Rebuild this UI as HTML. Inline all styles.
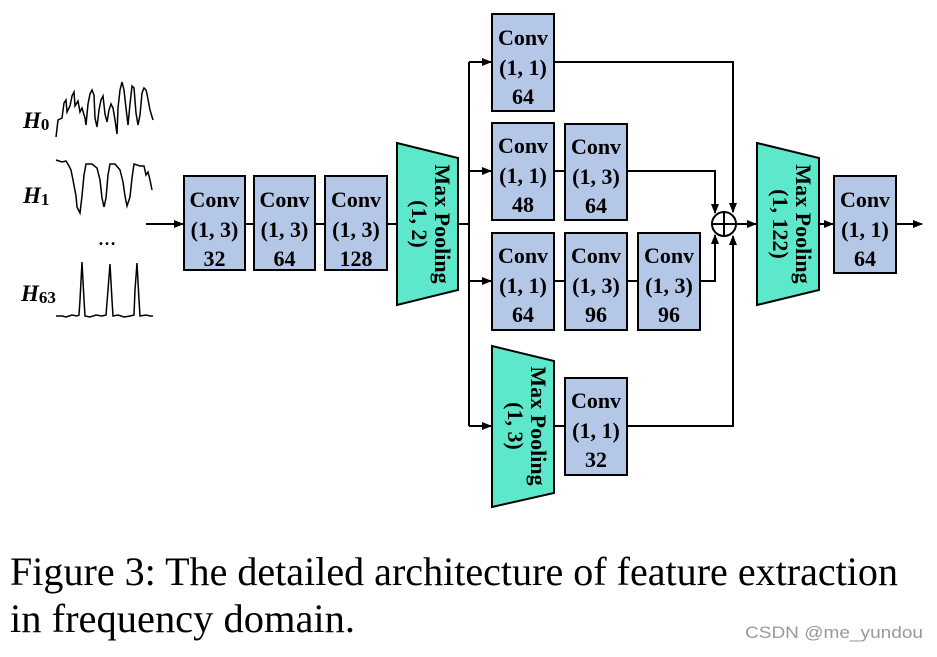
<!DOCTYPE html>
<html><head><meta charset="utf-8"><style>
body{margin:0;background:#fff;width:937px;height:652px;overflow:hidden}
svg text{font-family:"Liberation Serif",serif}
.b{font-weight:bold;font-size:22px}
</style></head><body>
<svg width="937" height="652" viewBox="0 0 937 652" xmlns="http://www.w3.org/2000/svg">
<defs><marker id="a" markerWidth="10" markerHeight="8" refX="9" refY="4" orient="auto" markerUnits="userSpaceOnUse"><path d="M0,0 L10,4 L0,8 z" fill="#000"/></marker></defs>
<g font-family="Liberation Serif" font-weight="bold" font-size="23">
<text x="23" y="128"><tspan font-style="italic">H</tspan><tspan font-size="17" dy="2">0</tspan></text>
<text x="23" y="203"><tspan font-style="italic">H</tspan><tspan font-size="17" dy="2">1</tspan></text>
<text x="21" y="301"><tspan font-style="italic">H</tspan><tspan font-size="17" dy="2">63</tspan></text>
</g>
<g fill="none" stroke="#000" stroke-width="1.5">
<polyline points="56,137 58,120 62,118 64,103 66,100 67,112 70,106 72,96 74,92 75,106 78,101 80,112 82,108 85,118 86,125 88,104 90,94 92,90 94,95 95,118 97,127 99,110 101,100 103,96 105,114 107,122 109,110 111,104 113,108 115,120 117,134 118,108 120,90 122,82 124,90 126,108 128,125 130,104 132,86 134,88 136,113 138,125 140,115 142,93 144,88 146,90 147,94 150,110 153,120"/>
<polyline points="56,160 62,162 66,161 69,166 71,170 73,180 76,196 77,207 80,213 82,196 84,175 86,164 92,164 97,168 100,180 102,198 104,207 106,198 108,175 110,164 115,164 120,170 123,182 125,196 127,206 130,197 132,178 134,164 140,166 144,166 146,175 148,172 150,180 152,190"/>
<polyline points="56,316 62,316 66,317 72,315 77,316 79,315 80,300 82,262 84,300 85,316 90,317 96,315 102,316 106,315 108,290 110,264 112,300 113,316 118,315 124,317 130,316 134,315 135,290 137,263 139,300 140,316 146,315 150,316 153,316"/>
</g>
<text x="98" y="245" font-size="18" font-weight="bold">…</text>
<g stroke="#000" stroke-width="2" fill="none">
<line x1="146" y1="224" x2="183" y2="224" marker-end="url(#a)"/>
<line x1="245" y1="224" x2="254" y2="224"/>
<line x1="315" y1="224" x2="325" y2="224"/>
<line x1="387" y1="224" x2="397" y2="224"/>
<line x1="458" y1="224" x2="469" y2="224"/>
<line x1="469" y1="62" x2="469" y2="426"/>
<line x1="469" y1="62" x2="491" y2="62" marker-end="url(#a)"/>
<line x1="469" y1="171" x2="491" y2="171" marker-end="url(#a)"/>
<line x1="469" y1="281" x2="491" y2="281" marker-end="url(#a)"/>
<line x1="469" y1="426" x2="491" y2="426" marker-end="url(#a)"/>
<line x1="554" y1="171" x2="565" y2="171"/>
<line x1="554" y1="281" x2="565" y2="281"/>
<line x1="627" y1="281" x2="638" y2="281"/>
<line x1="554" y1="426" x2="565" y2="426"/>
<polyline points="554,62 733,62 733,212" marker-end="url(#a)"/>
<polyline points="627,171 715,171 715,213" marker-end="url(#a)"/>
<polyline points="700,281 715,281 715,235" marker-end="url(#a)"/>
<polyline points="627,426 733,426 733,236" marker-end="url(#a)"/>
<line x1="736" y1="224" x2="756" y2="224" marker-end="url(#a)"/>
<line x1="819" y1="224" x2="833" y2="224" marker-end="url(#a)"/>
<line x1="896" y1="224" x2="922" y2="224" marker-end="url(#a)"/>
<circle cx="724" cy="224" r="12" fill="#fff"/>
<line x1="712" y1="224" x2="736" y2="224"/>
<line x1="724" y1="212" x2="724" y2="236"/>
</g>
<g fill="#b4c7e7" stroke="#000" stroke-width="2">
<rect x="184" y="176" width="61" height="94"/>
<rect x="254" y="176" width="61" height="94"/>
<rect x="325" y="176" width="62" height="94"/>
<rect x="492" y="14" width="62" height="97"/>
<rect x="492" y="123" width="62" height="97"/>
<rect x="565" y="124" width="62" height="96"/>
<rect x="492" y="233" width="62" height="97"/>
<rect x="565" y="233" width="62" height="97"/>
<rect x="638" y="233" width="62" height="97"/>
<rect x="565" y="378" width="62" height="97"/>
<rect x="834" y="176" width="62" height="97"/>
</g>
<g fill="#5ee8cb" stroke="#000" stroke-width="2">
<polygon points="397,143 458,158 458,290 397,305"/>
<polygon points="757,143 819,158 819,290 757,305"/>
<polygon points="492,346 554,361 554,493 492,507"/>
</g>
<g class="b" text-anchor="middle">
<g transform="translate(214.5,0)"><text y="207">Conv</text><text y="237">(1, 3)</text><text y="266">32</text></g>
<g transform="translate(284.5,0)"><text y="207">Conv</text><text y="237">(1, 3)</text><text y="266">64</text></g>
<g transform="translate(356,0)"><text y="207">Conv</text><text y="237">(1, 3)</text><text y="266">128</text></g>
<g transform="translate(523,0)"><text y="45">Conv</text><text y="75">(1, 1)</text><text y="104">64</text></g>
<g transform="translate(523,0)"><text y="153">Conv</text><text y="183">(1, 1)</text><text y="212">48</text></g>
<g transform="translate(596,0)"><text y="154">Conv</text><text y="184">(1, 3)</text><text y="213">64</text></g>
<g transform="translate(523,0)"><text y="263">Conv</text><text y="293">(1, 1)</text><text y="322">64</text></g>
<g transform="translate(596,0)"><text y="263">Conv</text><text y="293">(1, 3)</text><text y="322">96</text></g>
<g transform="translate(669,0)"><text y="263">Conv</text><text y="293">(1, 3)</text><text y="322">96</text></g>
<g transform="translate(596,0)"><text y="408">Conv</text><text y="438">(1, 1)</text><text y="467">32</text></g>
<g transform="translate(865,0)"><text y="207">Conv</text><text y="237">(1, 1)</text><text y="266">64</text></g>
<g transform="translate(427,224) rotate(90)"><text x="0" y="-8">Max Pooling</text><text x="0" y="15">(1, 2)</text></g>
<g transform="translate(788,224) rotate(90)"><text x="0" y="-8">Max Pooling</text><text x="0" y="15">(1, 122)</text></g>
<g transform="translate(523,426) rotate(90)"><text x="0" y="-8">Max Pooling</text><text x="0" y="15">(1, 3)</text></g>
</g>
<text x="10" y="585" font-size="40" textLength="888" lengthAdjust="spacingAndGlyphs">Figure 3: The detailed architecture of feature extraction</text>
<text x="10" y="632" font-size="40" textLength="345" lengthAdjust="spacingAndGlyphs">in frequency domain.</text>
<text x="745" y="638" font-size="17" fill="#999" style="font-family:'Liberation Sans',sans-serif" textLength="178" lengthAdjust="spacingAndGlyphs">CSDN @me_yundou</text>
</svg>
</body></html>
